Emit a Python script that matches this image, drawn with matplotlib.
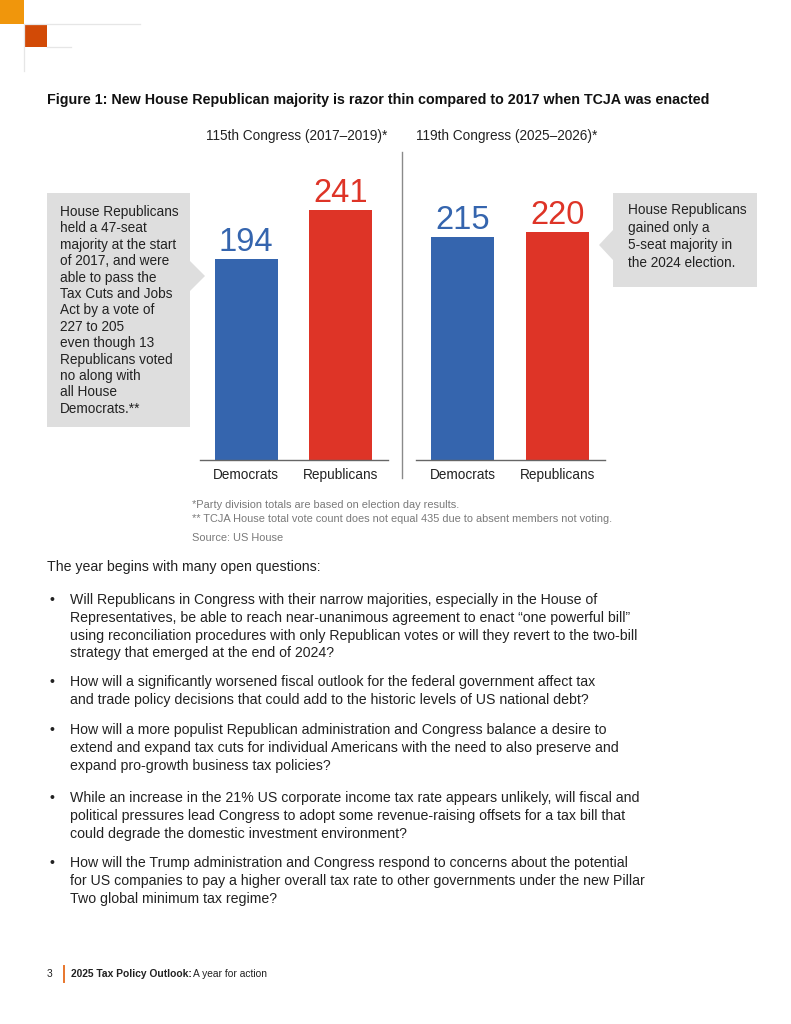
import matplotlib
matplotlib.use("Agg")
import matplotlib.pyplot as plt
from matplotlib.patches import Polygon, Rectangle
from matplotlib.lines import Line2D

plt.rcParams['font.family'] = ['Liberation Sans', 'DejaVu Sans']

# ---------------- data ----------------
categories = ["Democrats", "Republicans"]
seats_115 = [194, 241]
seats_119 = [215, 220]
panel_titles = ["115th Congress (2017\u20132019)*", "119th Congress (2025\u20132026)*"]
bar_colors = ["#3565AE", "#DE3427"]

title_text = "Figure 1: New House Republican majority is razor thin compared to 2017 when TCJA was enacted"
left_note = ["House Republicans", "held a 47-seat", "majority at the start", "of 2017, and were",
             "able to pass the", "Tax Cuts and Jobs", "Act by a vote of", "227 to 205",
             "even though 13", "Republicans voted", "no along with", "all House", "Democrats.**"]
right_note = ["House Republicans", "gained only a", "5-seat majority in", "the 2024 election."]
footnotes = ["*Party division totals are based on election day results.",
             "** TCJA House total vote count does not equal 435 due to absent members not voting."]
source = "Source: US House"
intro = "The year begins with many open questions:"
bullets = [
    ["Will Republicans in Congress with their narrow majorities, especially in the House of",
     "Representatives, be able to reach near-unanimous agreement to enact \u201cone powerful bill\u201d",
     "using reconciliation procedures with only Republican votes or will they revert to the two-bill",
     "strategy that emerged at the end of 2024?"],
    ["How will a significantly worsened fiscal outlook for the federal government affect tax",
     "and trade policy decisions that could add to the historic levels of US national debt?"],
    ["How will a more populist Republican administration and Congress balance a desire to",
     "extend and expand tax cuts for individual Americans with the need to also preserve and",
     "expand pro-growth business tax policies?"],
    ["While an increase in the 21% US corporate income tax rate appears unlikely, will fiscal and",
     "political pressures lead Congress to adopt some revenue-raising offsets for a tax bill that",
     "could degrade the domestic investment environment?"],
    ["How will the Trump administration and Congress respond to concerns about the potential",
     "for US companies to pay a higher overall tax rate to other governments under the new Pillar",
     "Two global minimum tax regime?"],
]
bullet_starts = [600, 682, 730, 798, 863]

W, H = 791, 1024
fig = plt.figure(figsize=(W / 100, H / 100), dpi=100)
fig.patch.set_facecolor("white")

# overlay axes in pixel coordinates for page decoration & text
ov = fig.add_axes([0, 0, 1, 1], zorder=0)
ov.set_xlim(0, W)
ov.set_ylim(H, 0)
ov.axis("off")

TXT = "#222222"

# top-left decoration
ov.add_patch(Rectangle((0, 0), 24, 24, color="#F0960C", lw=0))
ov.add_patch(Rectangle((25, 25), 22, 22, color="#D24A06", lw=0))
lc = "#E6E6E6"
ov.add_line(Line2D([24, 140], [24, 24], color=lc, lw=0.9))
ov.add_line(Line2D([24, 24], [24, 71], color=lc, lw=0.9))
ov.add_line(Line2D([47, 71], [47, 47], color=lc, lw=0.9))

# title
ov.text(47, 100, title_text, fontsize=10.3, fontweight="bold", color="#111111", va="center", ha="left")

# panel titles
ov.text(297, 136, panel_titles[0], fontsize=9.8, color=TXT, va="center", ha="center")
ov.text(507, 136, panel_titles[1], fontsize=9.8, color=TXT, va="center", ha="center")

# divider
ov.add_line(Line2D([402, 402], [152, 478], color="#8A8A8A", lw=1.0))

# callouts
gray = "#DEDEDE"
ov.add_patch(Polygon([(47, 193), (190, 193), (190, 261), (205, 276), (190, 291), (190, 427), (47, 427)],
                     closed=True, facecolor=gray, edgecolor="none"))
for i, line in enumerate(left_note):
    ov.text(60, 212 + i * 16.4, line, fontsize=9.8, color=TXT, va="center", ha="left")

ov.add_patch(Polygon([(613, 193), (757, 193), (757, 287), (613, 287), (613, 260), (599, 245), (613, 230)],
                     closed=True, facecolor=gray, edgecolor="none"))
for i, line in enumerate(right_note):
    ov.text(628, 210 + i * 17.7, line, fontsize=9.8, color=TXT, va="center", ha="left")

# footnotes
fn_col = "#7A7A7A"
ov.text(192, 505, footnotes[0], fontsize=7.9, color=fn_col, va="center", ha="left")
ov.text(192, 519, footnotes[1], fontsize=7.9, color=fn_col, va="center", ha="left")
ov.text(192, 538, source, fontsize=7.9, color=fn_col, va="center", ha="left")

# body text
ov.text(47, 567, intro, fontsize=10.2, color=TXT, va="center", ha="left")
for start, lines in zip(bullet_starts, bullets):
    ov.text(52, start, "\u2022", fontsize=10.2, color=TXT, va="center", ha="center")
    for j, line in enumerate(lines):
        ov.text(70, start + j * 17.8, line, fontsize=10.2, color=TXT, va="center", ha="left")

# footer
ov.text(47, 974, "3", fontsize=7.4, color=TXT, va="center", ha="left")
ov.add_line(Line2D([63.5, 63.5], [966, 982], color="#E8762C", lw=1.4))
ov.text(71, 974, "2025 Tax Policy Outlook:", fontsize=7.4, fontweight="bold", color=TXT, va="center", ha="left")
ov.text(193, 974, "A year for action", fontsize=7.4, color=TXT, va="center", ha="left")

# ---------------- bar panels ----------------
def px_axes(x0, x1, ytop, ybot):
    return fig.add_axes([x0 / W, 1 - ybot / H, (x1 - x0) / W, (ybot - ytop) / H], zorder=2)

ytop, ybase = 150, 460
ymax = (ybase - ytop) / 1.037
panels = [(200, 388, seats_115), (416, 605, seats_119)]
for x0, x1, vals in panels:
    ax = px_axes(x0, x1, ytop, ybase)
    ax.patch.set_alpha(0)
    xs = list(range(len(categories)))
    bars = ax.bar(xs, vals, width=0.667, color=bar_colors)
    ax.set_xlim(-0.49, 1.5)
    ax.set_ylim(0, ymax)
    for s in ["top", "left", "right"]:
        ax.spines[s].set_visible(False)
    ax.spines["bottom"].set_color("#666666")
    ax.spines["bottom"].set_linewidth(1.0)
    ax.set_yticks([])
    ax.set_xticks(xs)
    ax.set_xticklabels(categories, fontsize=9.8, color=TXT)
    ax.tick_params(axis="x", length=0, pad=6)
    for b, v, c in zip(bars, vals, bar_colors):
        ax.annotate(str(v), (b.get_x() + b.get_width() / 2, v), xytext=(0, 12),
                    textcoords="offset points", ha="center", va="center",
                    fontsize=23.5, color=c)

fig.savefig("out.png", dpi=100, facecolor="white")
